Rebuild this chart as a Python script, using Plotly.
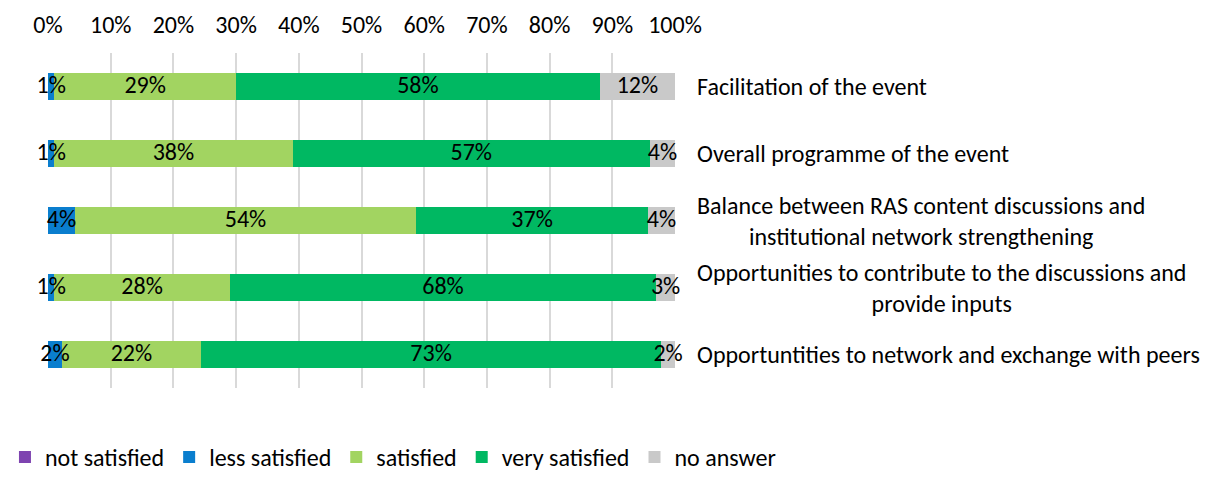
import numpy as np
import plotly.graph_objects as go

categories = [
    "Facilitation of the event",
    "Overall programme of the event",
    "Balance between RAS content discussions and<br>institutional network strengthening",
    "Opportunities to contribute to the discussions and<br>provide inputs",
    "Opportuntities to network and exchange with peers",
]
series_names = ["not satisfied", "less satisfied", "satisfied", "very satisfied", "no answer"]
not_satisfied = [0, 0, 0, 0, 0]
less_satisfied = [1, 1, 4.3, 1, 2.2]
satisfied = [29, 38, 54.4, 28, 22.2]
very_satisfied = [58, 57, 37.0, 68, 73.4]
no_answer = [12, 4, 4.3, 3, 2.2]
tick_vals = [0, 10, 20, 30, 40, 50, 60, 70, 80, 90, 100]
tick_text = [f"{v}%" for v in tick_vals]

colors = ["#7E44B0", "#0A7ECE", "#A2D461", "#00B862", "#C9C9C9"]
FONT = "Carlito, Calibri, Lato, 'Open Sans', sans-serif"
FS = 24

all_series = [not_satisfied, less_satisfied, satisfied, very_satisfied, no_answer]

fig = go.Figure()
for name, vals, col in zip(series_names, all_series, colors):
    fig.add_trace(go.Bar(
        y=categories, x=vals, name=name, orientation="h",
        marker=dict(color=col, line=dict(width=0)),
        hoverinfo="x+name",
    ))

# data labels drawn on top of all bars, centred on each segment
vals_arr = np.array(all_series, dtype=float)
ends = np.cumsum(vals_arr, axis=0)
mids = ends - vals_arr / 2
lab_x, lab_y, lab_t = [], [], []
for s in range(vals_arr.shape[0]):
    for c, cat in enumerate(categories):
        v = vals_arr[s, c]
        if v > 0:
            lab_x.append(mids[s, c])
            lab_y.append(cat)
            lab_t.append(f"{v:.0f}%")
fig.add_trace(go.Scatter(
    x=lab_x, y=lab_y, text=lab_t, mode="text", showlegend=False,
    textposition="middle center", cliponaxis=False, hoverinfo="skip",
    textfont=dict(size=FS, family=FONT, color="black"),
))

for cat in categories:
    fig.add_annotation(
        x=1, xref="paper", y=cat, yref="y", xanchor="left", xshift=20,
        text=cat, showarrow=False, align="center",
        font=dict(size=FS, family=FONT, color="black"),
    )

fig.update_layout(
    barmode="stack", bargap=0.6,
    width=1207, height=482,
    margin=dict(l=40, r=540, t=45, b=101.5, autoexpand=False),
    paper_bgcolor="white", plot_bgcolor="white",
    font=dict(family=FONT, size=FS, color="black"),
    showlegend=True,
    legend=dict(orientation="h", x=1.169, xanchor="right", y=-0.207, yanchor="middle",
                font=dict(size=FS, family=FONT), traceorder="normal"),
    xaxis=dict(side="top", range=[0, 100], tickvals=tick_vals, ticktext=tick_text,
               showgrid=True, gridcolor="#D9D9D9", gridwidth=1.5, zeroline=False,
               showline=False, ticks="", ticklabelstandoff=14,
               tickfont=dict(size=FS, family=FONT)),
    yaxis=dict(autorange="reversed", showticklabels=False, showgrid=False,
               zeroline=False, showline=False, ticks=""),
)

fig.write_html("out.html")
